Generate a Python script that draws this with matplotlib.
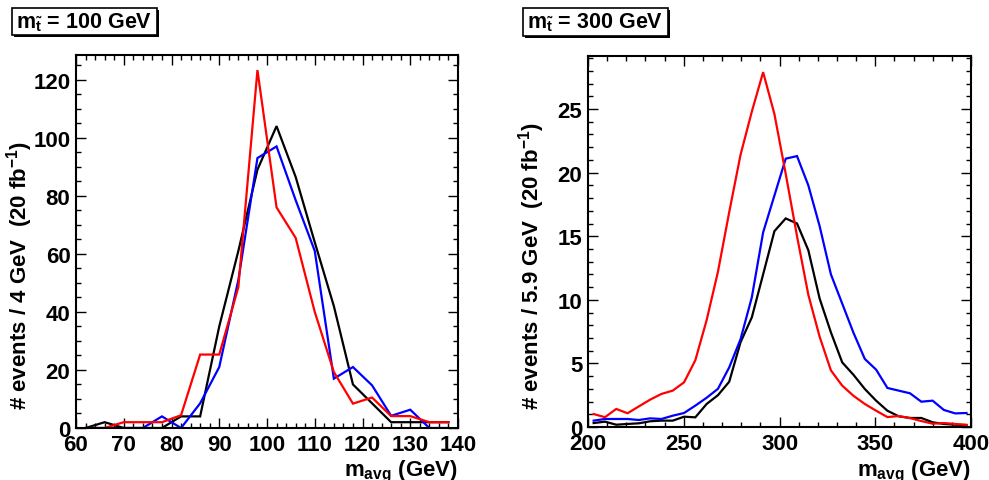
import numpy as np
import matplotlib
matplotlib.use("Agg")
import matplotlib.pyplot as plt
import matplotlib.transforms as mtransforms
from matplotlib.patches import Rectangle
from matplotlib.ticker import MultipleLocator

plt.rcParams['font.family'] = ['Liberation Sans', 'DejaVu Sans']
plt.rcParams['font.weight'] = 'bold'
plt.rcParams['mathtext.fontset'] = 'custom'
plt.rcParams['mathtext.rm'] = 'Liberation Sans:bold'
plt.rcParams['mathtext.it'] = 'Liberation Sans:bold'
plt.rcParams['mathtext.bf'] = 'Liberation Sans:bold'

# --- m_stop = 100 GeV (bins of 4 GeV) ---
x_100 = [62, 66, 70, 74, 78, 82, 86, 90, 94, 98, 102, 106, 110, 114, 118, 122, 126, 130, 134, 138]
black_100 = [0, 2, 0, 0, 0, 4, 4, 35, 61, 89, 104, 86.5, 64, 42, 15, 8.5, 2, 2, 2, 2]
blue_100 = [0, 0, 0, 0, 4, 0, 8.5, 21, 51, 93, 97, 78.5, 61, 17, 21, 14.7, 4.2, 6.3, 0, 0]
red_100 = [0, 0, 2, 2, 2, 4.4, 25.3, 25.3, 48.5, 123.3, 76, 65.5, 40, 19.3, 8.4, 10.5, 4.1, 4.1, 2, 2]

# --- m_stop = 300 GeV (bins of 5.9 GeV) ---
x_300 = [202.95, 208.85, 214.75, 220.65, 226.55, 232.45, 238.35, 244.25, 250.15, 256.05,
         261.95, 267.85, 273.75, 279.65, 285.55, 291.45, 297.35, 303.25, 309.15, 315.05,
         320.95, 326.85, 332.75, 338.65, 344.55, 350.45, 356.35, 362.25, 368.15, 374.05,
         379.95, 385.85, 391.75, 397.65]
black_300 = [0.31, 0.42, 0.18, 0.24, 0.29, 0.45, 0.5, 0.5, 0.81, 0.76,
             1.81, 2.5, 3.56, 6.66, 8.62, 12.0, 15.4, 16.4, 16.0, 13.9,
             10.1, 7.44, 5.08, 4.1, 2.99, 2.07, 1.28, 0.84, 0.71, 0.71,
             0.37, 0.24, 0.18, 0.16]
blue_300 = [0.5, 0.63, 0.63, 0.63, 0.55, 0.68, 0.63, 0.89, 1.1, 1.68,
            2.3, 3.0, 4.69, 6.9, 10.2, 15.3, 18.2, 21.1, 21.3, 19.0,
            15.8, 12.0, 9.7, 7.4, 5.35, 4.51, 3.07, 2.86, 2.65, 1.99,
            2.07, 1.34, 1.07, 1.1]
red_300 = [1.02, 0.77, 1.42, 1.08, 1.62, 2.15, 2.6, 2.86, 3.51, 5.25,
           8.4, 12.2, 16.9, 21.4, 24.8, 27.9, 24.6, 19.9, 15.0, 10.4,
           7.1, 4.45, 3.25, 2.45, 1.81, 1.28, 0.78, 0.86, 0.7, 0.47,
           0.26, 0.31, 0.24, 0.16]

W, H = 989, 481
fig = plt.figure(figsize=(W / 100, H / 100), dpi=100)


def px_box(x0, y0, x1, y1):
    # pixel coords (top-left origin) -> figure fraction rect
    return [x0 / W, 1 - y1 / H, (x1 - x0) / W, (y1 - y0) / H]


def painel(rect, xs, series, xlim, ylim, xmaj, xmin, ymaj, ymin, ylabel, titulo, box, ylab_x):
    ax = fig.add_axes(rect)
    for ys, cor in series:
        ax.plot(xs, ys, color=cor, lw=1.6, solid_joinstyle='miter')
    ax.set_xlim(*xlim)
    ax.set_ylim(*ylim)
    ax.xaxis.set_major_locator(MultipleLocator(xmaj))
    ax.xaxis.set_minor_locator(MultipleLocator(xmin))
    ax.yaxis.set_major_locator(MultipleLocator(ymaj))
    ax.yaxis.set_minor_locator(MultipleLocator(ymin))
    ax.tick_params(which='both', direction='in', top=True, right=True, width=1)
    ax.tick_params(which='major', length=7.5, labelsize=16, pad=4)
    ax.tick_params(which='minor', length=3.8)
    for sp in ax.spines.values():
        sp.set_linewidth(1.5)

    # x label: right-aligned at the end of the axis, partly cut by the figure edge
    trans = mtransforms.blended_transform_factory(ax.transAxes, fig.transFigure)
    ax.text(1.0, (H - 476) / H, r'm$_{\mathrm{avg}}$ (GeV)', transform=trans, ha='right',
            va='baseline', fontsize=16, fontweight='bold', clip_on=False)

    fig.text(ylab_x / W, (H - 410) / H, ylabel, rotation=90, ha='center', va='bottom',
             fontsize=16, fontweight='bold')

    # caixa do titulo com sombra (estilo ROOT)
    x0, y0, x1, y1 = box
    fig.patches.append(Rectangle(((x0 + 2) / W, 1 - (y1 + 2) / H), (x1 - x0) / W, (y1 - y0) / H,
                                 transform=fig.transFigure, facecolor='black', edgecolor='none'))
    fig.patches.append(Rectangle((x0 / W, 1 - y1 / H), (x1 - x0) / W, (y1 - y0) / H,
                                 transform=fig.transFigure, facecolor='white', edgecolor='black', lw=1.2))
    fig.text((x0 + x1) / 2 / W, 1 - (y0 + y1) / 2 / H, titulo, ha='center', va='center',
             fontsize=15.5, fontweight='bold')
    return ax


painel(px_box(76, 56, 458, 429), x_100,
       [(black_100, 'black'), (blue_100, '#0000ff'), (red_100, '#ff0000')],
       (60, 140), (0, 128.5), 10, 2, 20, 5,
       r'# events / 4 GeV  (20 fb$^{-1}$)', r'm$_{\tilde{\mathrm{t}}}$ = 100 GeV',
       (12, 9, 157, 36), 20)

painel(px_box(588, 57, 971, 428), x_300,
       [(black_300, 'black'), (blue_300, '#0000ff'), (red_300, '#ff0000')],
       (200, 400), (0, 29.17), 50, 10, 5, 1,
       r'# events / 5.9 GeV  (20 fb$^{-1}$)', r'm$_{\tilde{\mathrm{t}}}$ = 300 GeV',
       (523, 9, 668, 37), 532)

fig.savefig('out.png', dpi=100)
